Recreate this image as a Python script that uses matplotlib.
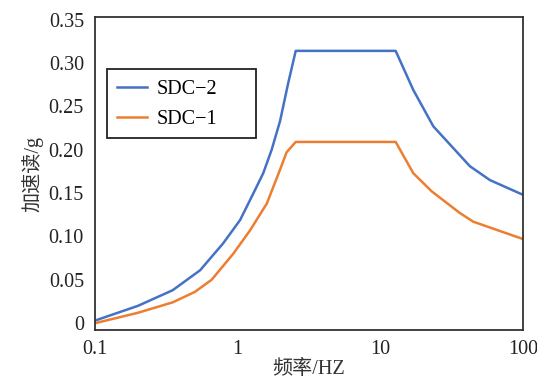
import matplotlib.pyplot as plt
from matplotlib.patches import Rectangle
from matplotlib.ticker import FixedLocator, FixedFormatter

plt.rcParams['font.family'] = ['Liberation Serif', 'Noto Sans CJK SC']
plt.rcParams['axes.unicode_minus'] = True

# SDC-2 response spectrum
f_sdc2 = [0.1, 0.2, 0.35, 0.545, 0.79, 1.04, 1.29, 1.51, 1.73, 1.98, 2.26, 2.55,
          12.8, 17.0, 23.5, 42.4, 58.6, 100]
a_sdc2 = [0.003, 0.020, 0.038, 0.061, 0.092, 0.119, 0.150, 0.173, 0.200, 0.233,
          0.277, 0.314, 0.314, 0.269, 0.227, 0.181, 0.165, 0.148]

# SDC-1 response spectrum
f_sdc1 = [0.1, 0.2, 0.35, 0.5, 0.656, 0.93, 1.22, 1.60, 1.98, 2.20, 2.55,
          12.8, 17.0, 22.9, 36.1, 44.8, 100]
a_sdc1 = [0.000, 0.012, 0.024, 0.036, 0.050, 0.080, 0.107, 0.138, 0.177, 0.197,
          0.209, 0.209, 0.173, 0.152, 0.127, 0.117, 0.097]

x_ticks = [0.1, 1, 10, 100]
x_labels = ['0.1', '1', '10', '100']
y_ticks = [0, 0.05, 0.10, 0.15, 0.20, 0.25, 0.30, 0.35]
y_labels = ['0', '0.05', '0.10', '0.15', '0.20', '0.25', '0.30', '0.35']

fig = plt.figure(figsize=(5.37, 3.79), dpi=100)
ax = fig.add_axes([0.177, 0.129, 0.797, 0.826])

ax.plot(f_sdc2, a_sdc2, color='#4472C4', lw=1.8, label='SDC\u22122')
ax.plot(f_sdc1, a_sdc1, color='#ED7D31', lw=1.8, label='SDC\u22121')

ax.set_xscale('log')
ax.set_xlim(0.1, 100)
ax.set_ylim(-0.008, 0.353)
ax.xaxis.set_major_locator(FixedLocator(x_ticks))
ax.xaxis.set_major_formatter(FixedFormatter(x_labels))
ax.xaxis.set_minor_locator(FixedLocator([]))
ax.set_yticks(y_ticks)
ax.set_yticklabels(y_labels)
ax.tick_params(length=0, labelsize=14.5, colors='#222222')
ax.tick_params(axis='y', pad=8)
ax.tick_params(axis='x', pad=7)

for s in ax.spines.values():
    s.set_color('#333333')
    s.set_linewidth(1.3)

ax.set_xlabel('频率/HZ', fontsize=14.5, color='#333333', labelpad=1)
ax.set_ylabel('加速读/g', fontsize=14.5, color='#333333', labelpad=4)

# legend with a wider hand-drawn box, like the original
leg = ax.legend(loc='upper left', bbox_to_anchor=(0.052, 0.80), borderaxespad=0,
                frameon=False, fontsize=14.5, handlelength=1.45,
                handletextpad=0.5, borderpad=0, labelspacing=0.55)
ax.add_patch(Rectangle((0.028, 0.613), 0.348, 0.221, transform=ax.transAxes,
                       fill=False, edgecolor='#222222', lw=1.3, zorder=5))

plt.savefig('out.png', dpi=100)
